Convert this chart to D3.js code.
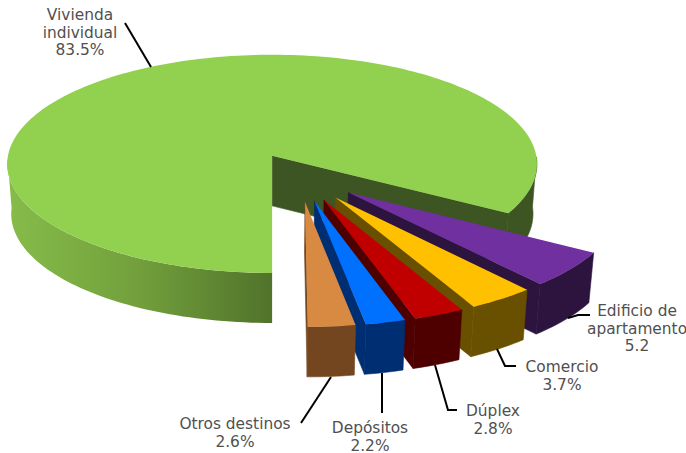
<!DOCTYPE html>
<html>
<head>
<meta charset="utf-8">
<script src="https://cdn.jsdelivr.net/npm/d3@7"></script>
<style>html,body{margin:0;padding:0;background:#fff}svg{display:block}</style>
</head>
<body>
<svg id="chart" width="686" height="453"></svg>
<script>
const categories = ["Vivienda individual", "Edificio de apartamento", "Comercio", "Dúplex", "Depósitos", "Otros destinos"];
const values = [83.5, 5.2, 3.7, 2.8, 2.2, 2.6];
const valueLabels = ["83.5%", "5.2", "3.7%", "2.8%", "2.2%", "2.6%"];
const topColors = ["#92D050", "#7030A0", "#FFC000", "#C00000", "#0070FF", "#D98A42"];
const sideColors = ["#3D5522", "#2C143F", "#685000", "#4E0000", "#002E72", "#73461F"];

const cx = 272, cy = 155, kPersp = 0.0734;
const explodeBy = [0.205, 0.235, 0.235, 0.235, 0.235, 0.235];
const depth = 50, bottomShrink = 0.985;
const hub = [0.102, 0.186];

const sx = d3.scaleLinear().domain([-1, 1]).range([cx - 264, cx + 264]);
const sy = d3.scaleLinear().domain([-1, 1]).range([cy - 108.4, cy + 108.4]);

function projTop(X, Y) {
  const p = 1 / (1 - kPersp * Y);
  return [sx(X * p), sy(Y * p)];
}
function projBottom(X, Y) {
  const q = projTop(X, Y);
  return [cx + (q[0] - cx) * bottomShrink, q[1] + depth];
}

const svg = d3.select("#chart");
const line = d3.line();
const defs = svg.append("defs");

const g1 = defs.append("linearGradient").attr("id", "mainWall")
  .attr("gradientUnits", "userSpaceOnUse").attr("x1", 8).attr("x2", 272).attr("y1", 0).attr("y2", 0);
g1.append("stop").attr("offset", 0).attr("stop-color", "#86BC4A");
g1.append("stop").attr("offset", 0.5).attr("stop-color", "#729F3C");
g1.append("stop").attr("offset", 1).attr("stop-color", "#50732A");

const pie = d3.pie().sort(null).startAngle(Math.PI).endAngle(3 * Math.PI);
const arcs = pie(values);

arcs.forEach((d, i) => {
  const mid = (d.startAngle + d.endAngle) / 2;
  const ax = hub[0] + explodeBy[i] * Math.sin(mid);
  const ay = hub[1] - explodeBy[i] * Math.cos(mid);
  const n = Math.max(6, Math.ceil((d.endAngle - d.startAngle) * 40));
  const angles = d3.range(n + 1).map(j => d.startAngle + (d.endAngle - d.startAngle) * j / n);
  const rim = a => [ax + Math.sin(a), ay - Math.cos(a)];
  const g = svg.append("g").attr("class", "slice").attr("data-name", categories[i]);
  const wall = (list, fill) => g.append("path").attr("fill", fill)
    .attr("stroke", fill === sideColors[i] ? fill : "none").attr("stroke-width", 0.6)
    .attr("d", line([
      ...list.map(a => projTop(...rim(a))),
      ...list.slice().reverse().map(a => projBottom(...rim(a)))
    ]) + "Z");

  // Cut wall at the end angle
  const endRim = rim(d.endAngle);
  g.append("path").attr("fill", sideColors[i]).attr("stroke", sideColors[i]).attr("stroke-width", 0.6)
    .attr("d", line([
      projTop(ax, ay), projTop(...endRim), projBottom(...endRim), projBottom(ax, ay)
    ]) + "Z");

  // Outer wall: only the parts that face the viewer
  if (i === 0) {
    wall(angles.filter(a => a <= 1.5 * Math.PI), "url(#mainWall)");
    wall(angles.filter(a => a >= 2.5 * Math.PI), sideColors[0]);
  } else {
    wall(angles, sideColors[i]);
  }

  // Top face
  g.append("path").attr("fill", topColors[i]).attr("d", line([
    projTop(ax, ay), ...angles.map(a => projTop(...rim(a)))
  ]) + "Z");
});

// Leader lines
const leaders = [
  [[125, 23], [151, 67]],
  [[568, 318], [578, 315], [590, 315]],
  [[497, 349], [505, 366], [516, 366]],
  [[435, 365], [448, 410], [457, 410]],
  [[382, 373], [382, 413]],
  [[331, 377], [301, 423]]
];
svg.append("g").selectAll("path").data(leaders).join("path")
  .attr("d", d => line(d)).attr("fill", "none")
  .attr("stroke", "#000").attr("stroke-width", 2);

// Labels
const labelPos = [
  { x: 80, y: 20, lines: ["Vivienda", "individual"] },
  { x: 637, y: 316, lines: ["Edificio de", "apartamento"] },
  { x: 562, y: 372, lines: ["Comercio"] },
  { x: 493, y: 416, lines: ["Dúplex"] },
  { x: 370, y: 433, lines: ["Depósitos"] },
  { x: 235, y: 429, lines: ["Otros destinos"] }
];
const lh = 17.5;
const labels = svg.append("g").attr("font-family", "'DejaVu Sans', sans-serif")
  .attr("font-size", 15.4).attr("fill", "#505050").attr("text-anchor", "middle");
labelPos.forEach((l, i) => {
  const t = labels.append("text").attr("x", l.x).attr("y", l.y);
  [...l.lines, valueLabels[i]].forEach((s, j) => {
    t.append("tspan").attr("x", l.x).attr("dy", j ? lh : 0).text(s);
  });
});
</script>
</body>
</html>
